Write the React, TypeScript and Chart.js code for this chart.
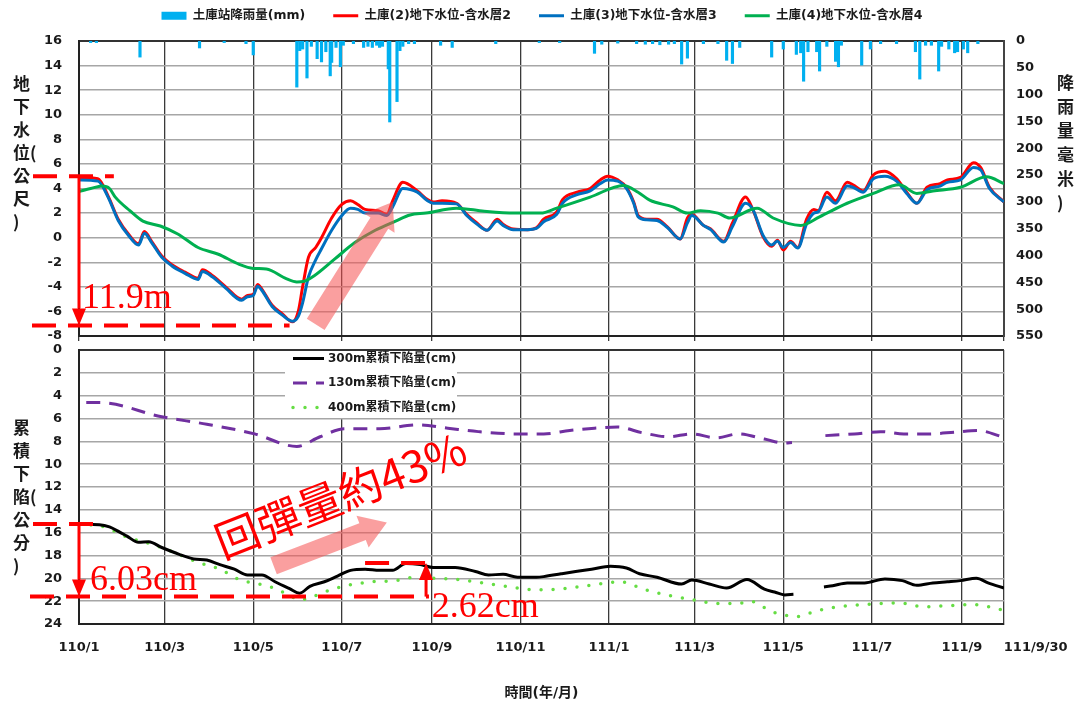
import React, { useEffect, useRef } from 'react';
import { Chart, registerables } from 'chart.js';

Chart.register(...registerables);

// ---------- time axis (days since 110/1/1) ----------
const xTickDays = [0, 59, 120, 181, 243, 304, 365, 424, 485, 546, 608, 637];
const xTickLabels = ['110/1', '110/3', '110/5', '110/7', '110/9', '110/11', '111/1', '111/3', '111/5', '111/7', '111/9', '111/9/30'];

// ---------- top chart: rainfall (day, mm) ----------
const rainfall: [number, number][] = [
  [8, 3], [12, 3], [42, 30], [83, 13], [100, 3], [115, 5], [120, 26], [150, 86], [152, 18], [154, 15],
  [157, 69], [160, 10], [164, 33], [167, 39], [170, 20], [173, 65], [174, 40], [177, 12], [180, 48], [182, 8],
  [189, 5], [196, 12], [199, 10], [202, 12], [205, 8], [207, 12], [209, 10], [213, 52], [214, 151], [219, 113],
  [221, 18], [223, 10], [227, 5], [231, 5], [249, 8], [257, 12], [287, 5], [317, 3], [331, 3], [355, 23],
  [360, 6], [371, 4], [384, 5], [390, 6], [395, 5], [400, 7], [406, 6], [410, 5], [415, 43], [419, 32],
  [430, 5], [440, 5], [446, 36], [450, 42], [455, 12], [477, 30], [485, 15], [494, 25], [497, 22], [499, 75],
  [502, 20], [508, 20], [510, 56], [515, 10], [521, 38], [523, 48], [525, 8], [539, 45], [545, 15], [552, 5],
  [563, 5], [576, 20], [579, 71], [583, 8], [587, 8], [592, 56], [594, 10], [599, 15], [603, 22], [605, 20],
  [609, 15], [612, 22], [619, 5],
];

// ---------- top chart: groundwater level (day, m) ----------
const aquifer2: [number, number][] = [
  [0, 4.9], [13, 4.8], [20, 3.4], [27, 1.5], [34, 0.3], [41, -0.5], [45, 0.5], [50, -0.3], [57, -1.5], [64, -2.2],
  [73, -2.8], [82, -3.3], [85, -2.6], [92, -3.1], [101, -4.0], [112, -5.0], [116, -4.7], [120, -4.6], [123, -3.8], [126, -4.2],
  [133, -5.5], [140, -6.2], [147, -6.85], [151, -6.0], [154, -4.0], [158, -1.6], [163, -0.8], [167, 0.0], [174, 1.6], [181, 2.7],
  [187, 3.0], [192, 2.7], [197, 2.3], [206, 2.2], [212, 1.9], [216, 3.0], [223, 4.5], [233, 3.8], [240, 3.1], [244, 2.9],
  [250, 3.0], [260, 2.8], [267, 1.9], [274, 1.2], [281, 0.6], [288, 1.5], [292, 1.1], [299, 0.7], [309, 0.65], [315, 0.8],
  [320, 1.5], [329, 2.1], [333, 3.1], [343, 3.7], [352, 4.0], [359, 4.7], [364, 5.0], [371, 4.7], [377, 4.1], [382, 2.9],
  [385, 1.8], [391, 1.5], [398, 1.5], [405, 0.9], [414, -0.1], [419, 1.6], [422, 1.9], [430, 1.0], [435, 0.7], [444, -0.3],
  [450, 1.2], [459, 3.3], [464, 2.3], [471, 0.1], [477, -0.7], [481, -0.2], [485, -1.0], [490, -0.3], [495, -0.8], [501, 1.5],
  [506, 2.3], [509, 2.2], [515, 3.7], [521, 3.0], [529, 4.5], [533, 4.3], [540, 3.8], [547, 5.1], [555, 5.4], [563, 4.8],
  [570, 3.7], [577, 2.8], [584, 4.1], [593, 4.4], [598, 4.7], [607, 4.9], [616, 6.1], [621, 5.7], [627, 4.1], [637, 2.9],
];
const aquifer3: [number, number][] = [
  [0, 4.7], [13, 4.6], [20, 3.3], [27, 1.4], [34, 0.2], [41, -0.6], [45, 0.35], [50, -0.4], [57, -1.6], [64, -2.3],
  [73, -2.9], [82, -3.4], [85, -2.75], [92, -3.2], [101, -4.1], [112, -5.1], [116, -4.8], [120, -4.7], [123, -3.95], [126, -4.3],
  [133, -5.6], [140, -6.3], [147, -6.8], [151, -6.4], [154, -5.3], [158, -3.2], [163, -1.8], [167, -0.9], [174, 0.6], [181, 1.8],
  [187, 2.4], [192, 2.3], [197, 2.0], [206, 2.0], [212, 1.8], [216, 2.5], [223, 4.0], [233, 3.7], [240, 3.0], [244, 2.8],
  [250, 2.8], [260, 2.75], [267, 1.8], [274, 1.1], [281, 0.6], [288, 1.35], [292, 1.0], [299, 0.65], [309, 0.65], [315, 0.75],
  [320, 1.3], [329, 1.9], [333, 2.8], [343, 3.5], [352, 3.8], [359, 4.4], [364, 4.7], [371, 4.6], [377, 4.0], [382, 2.8],
  [385, 1.7], [391, 1.45], [398, 1.4], [405, 0.85], [414, -0.1], [419, 1.2], [422, 1.8], [430, 1.0], [435, 0.65], [444, -0.35],
  [450, 0.9], [459, 2.8], [464, 2.3], [471, 0.2], [477, -0.6], [481, -0.3], [485, -0.8], [490, -0.4], [495, -0.85], [501, 1.1],
  [506, 2.0], [509, 2.1], [515, 3.3], [521, 2.8], [529, 4.2], [533, 4.1], [540, 3.7], [547, 4.8], [555, 5.0], [563, 4.6],
  [570, 3.6], [577, 2.8], [584, 3.9], [593, 4.2], [598, 4.5], [607, 4.7], [616, 5.7], [621, 5.5], [627, 4.0], [637, 2.9],
];
const aquifer4: [number, number][] = [
  [0, 3.75], [8, 4.0], [16, 4.2], [21, 4.0], [25, 3.3], [35, 2.2], [44, 1.35], [56, 0.95], [68, 0.3], [82, -0.8],
  [96, -1.35], [110, -2.15], [120, -2.5], [129, -2.55], [143, -3.35], [150, -3.6], [155, -3.55], [162, -3.1], [176, -1.75], [190, -0.4],
  [204, 0.6], [218, 1.35], [228, 1.85], [239, 2.0], [260, 2.4], [279, 2.15], [300, 2.0], [318, 2.0], [329, 2.4], [352, 3.3],
  [375, 4.25], [385, 3.7], [393, 3.05], [409, 2.5], [419, 2.0], [428, 2.2], [440, 2.0], [448, 1.6], [467, 2.4], [478, 1.6],
  [497, 1.0], [510, 1.7], [529, 2.8], [547, 3.6], [565, 4.3], [577, 3.6], [588, 3.8], [607, 4.1], [625, 4.95], [637, 4.4],
];

// ---------- bottom chart: cumulative subsidence (day, cm) ----------
const subsidence300: [number, number | null][] = [
  [0, 15.25], [14, 15.3], [21, 15.5], [28, 15.95], [33, 16.3], [41, 16.85], [48, 16.8], [57, 17.3], [69, 17.9], [79, 18.3],
  [88, 18.4], [97, 18.8], [107, 19.2], [116, 19.7], [126, 19.7], [135, 20.3], [145, 20.9], [152, 21.3], [159, 20.7], [169, 20.3],
  [178, 19.8], [187, 19.3], [197, 19.2], [207, 19.3], [216, 19.3], [225, 18.7], [235, 18.8], [244, 19.05], [259, 19.05], [273, 19.4],
  [282, 19.7], [292, 19.65], [302, 19.9], [315, 19.9], [320, 19.85], [332, 19.6], [342, 19.4], [353, 19.2], [366, 18.95], [377, 19.1],
  [386, 19.6], [398, 19.9], [415, 20.5], [422, 20.15], [434, 20.5], [446, 20.85], [460, 20.1], [472, 20.95], [479, 21.2], [486, 21.45],
  [492, 21.4], [500, null], [513, 20.75], [519, 20.65], [529, 20.4], [541, 20.4], [555, 20.05], [567, 20.2], [577, 20.6], [588, 20.4],
  [598, 20.3], [607, 20.2], [618, 20.0], [626, 20.4], [637, 20.85],
];
const subsidence130: [number, number | null][] = [
  [5, 4.6], [14, 4.6], [57, 5.85], [88, 6.5], [121, 7.35], [150, 8.45], [166, 7.6], [183, 6.9], [207, 6.9], [233, 6.55],
  [254, 6.85], [275, 7.15], [302, 7.35], [320, 7.35], [338, 7.05], [355, 6.85], [371, 6.75], [388, 7.25], [406, 7.6], [422, 7.35],
  [439, 7.7], [454, 7.35], [472, 7.8], [486, 8.15], [491, 8.1], [500, null], [514, 7.5], [534, 7.35], [552, 7.15], [568, 7.35],
  [585, 7.35], [603, 7.2], [619, 7.05], [637, 7.65],
];
const subsidence400: [number, number][] = [
  [0, 15.3], [14, 15.4], [25, 15.9], [33, 16.4], [50, 17.0], [67, 17.8], [82, 18.6], [97, 19.2], [112, 20.2], [121, 20.4],
  [135, 20.9], [145, 21.5], [152, 21.9], [159, 21.7], [169, 21.2], [182, 20.7], [202, 20.3], [218, 20.2], [228, 19.95], [244, 20.0],
  [261, 20.1], [278, 20.4], [294, 20.7], [313, 21.0], [330, 20.95], [347, 20.7], [364, 20.4], [373, 20.3], [389, 20.95], [406, 21.5],
  [422, 21.85], [439, 22.2], [454, 22.2], [462, 22.0], [477, 22.9], [485, 23.2], [495, 23.35], [502, 23.1], [513, 22.7], [530, 22.4],
  [547, 22.25], [564, 22.15], [582, 22.5], [598, 22.4], [616, 22.3], [637, 22.8],
];

// ---------- axis titles ----------
const waterTitle = ['地', '下', '水', '位(', '公', '尺', ')'];
const rainTitle = ['降', '雨', '量(', '毫', '米', ')'];
const subsTitle = ['累', '積', '下', '陷(', '公', '分', ')'];
const xTitle = '時間(年/月)';

const FAMILY = "'DejaVu Sans', 'Noto Sans CJK TC', sans-serif";
const CJK_BOLD = "bold 17px 'Noto Sans CJK TC', sans-serif";
const SERIF = "'Liberation Serif', 'Times New Roman', serif";
const RED = '#ff0000';
const PINK = 'rgba(245, 80, 80, 0.55)';
const GRID_H = '#a6a6a6';
const GRID_V = '#3a3a3a';
const TEXT = '#1a1a1a';

const toXY = (arr: [number, number | null][]) => arr.map(([x, y]) => ({ x, y }));

function drawStacked(ctx: CanvasRenderingContext2D, lines: string[], x: number, y: number, step: number) {
  ctx.save();
  ctx.font = CJK_BOLD;
  ctx.fillStyle = TEXT;
  ctx.textAlign = 'left';
  ctx.textBaseline = 'middle';
  lines.forEach((l, i) => ctx.fillText(l, x, y + i * step));
  ctx.restore();
}

function dashed(ctx: CanvasRenderingContext2D, x0: number, y0: number, x1: number, y1: number) {
  ctx.save();
  ctx.strokeStyle = RED;
  ctx.lineWidth = 4;
  ctx.setLineDash([24, 12]);
  ctx.beginPath();
  ctx.moveTo(x0, y0);
  ctx.lineTo(x1, y1);
  ctx.stroke();
  ctx.restore();
}

function vArrow(ctx: CanvasRenderingContext2D, x: number, yFrom: number, yTo: number) {
  const dir = yTo > yFrom ? 1 : -1;
  const headL = 17;
  const headW = 7;
  ctx.save();
  ctx.strokeStyle = RED;
  ctx.fillStyle = RED;
  ctx.lineWidth = 3;
  ctx.beginPath();
  ctx.moveTo(x, yFrom);
  ctx.lineTo(x, yTo - dir * headL);
  ctx.stroke();
  ctx.beginPath();
  ctx.moveTo(x - headW, yTo - dir * headL);
  ctx.lineTo(x + headW, yTo - dir * headL);
  ctx.lineTo(x, yTo);
  ctx.closePath();
  ctx.fill();
  ctx.restore();
}

function blockArrow(ctx: CanvasRenderingContext2D, x0: number, y0: number, x1: number, y1: number, shaftW: number, headW: number, headL: number) {
  const ang = Math.atan2(y1 - y0, x1 - x0);
  const len = Math.hypot(x1 - x0, y1 - y0);
  ctx.save();
  ctx.translate(x0, y0);
  ctx.rotate(ang);
  ctx.beginPath();
  ctx.moveTo(0, -shaftW / 2);
  ctx.lineTo(len - headL, -shaftW / 2);
  ctx.lineTo(len - headL, -headW / 2);
  ctx.lineTo(len, 0);
  ctx.lineTo(len - headL, headW / 2);
  ctx.lineTo(len - headL, shaftW / 2);
  ctx.lineTo(0, shaftW / 2);
  ctx.closePath();
  ctx.fillStyle = PINK;
  ctx.fill();
  ctx.restore();
}

function serifText(ctx: CanvasRenderingContext2D, text: string, x: number, y: number) {
  ctx.save();
  ctx.font = `36px ${SERIF}`;
  ctx.fillStyle = RED;
  ctx.textAlign = 'left';
  ctx.textBaseline = 'alphabetic';
  ctx.fillText(text, x, y);
  ctx.restore();
}

const topDecor = {
  id: 'topDecor',
  afterLayout(chart: any) {
    // place legend row near the top edge without changing the plot area
    const lg = chart.legend;
    if (lg) {
      lg.top = -18.5;
      lg.bottom = 40;
    }
  },
  afterDraw(chart: any) {
    const { ctx, chartArea } = chart;
    const xs = chart.scales.x;
    const ys = chart.scales.yWater;
    const L = chartArea.left;
    drawStacked(ctx, waterTitle, 13, 84, 23);
    drawStacked(ctx, rainTitle, 1057, 83, 24);
    const hi = ys.getPixelForValue(5.0);
    const lo = ys.getPixelForValue(-7.15);
    blockArrow(ctx, xs.getPixelForValue(163), ys.getPixelForValue(-7.05), xs.getPixelForValue(216), ys.getPixelForValue(2.9), 21, 36, 25);
    dashed(ctx, L - 46, hi, xs.getPixelForValue(24), hi);
    dashed(ctx, L - 47, lo, xs.getPixelForValue(145), lo);
    vArrow(ctx, L, hi, lo);
    serifText(ctx, '11.9m', L + 3, lo - 18);
  },
};

const bottomDecor = {
  id: 'bottomDecor',
  beforeDraw(chart: any) {
    const { ctx, width, height } = chart;
    ctx.save();
    ctx.fillStyle = '#ffffff';
    ctx.fillRect(0, 0, width, height);
    ctx.restore();
  },
  afterDatasetsDraw(chart: any) {
    const { ctx, chartArea } = chart;
    const L = chartArea.left;
    const bx = L + 206;
    const bw = 172;
    ctx.save();
    ctx.fillStyle = '#ffffff';
    ctx.fillRect(bx, chartArea.top + 1, bw, 67);
    chart.data.datasets.forEach((ds: any, i: number) => {
      const y = chartArea.top + 8.5 + i * 24.5;
      ctx.save();
      ctx.strokeStyle = ds.borderColor;
      ctx.lineWidth = ds.borderWidth;
      ctx.lineCap = ds.borderCapStyle || 'butt';
      ctx.setLineDash(ds.borderDash || []);
      ctx.beginPath();
      ctx.moveTo(bx + 8, y);
      ctx.lineTo(bx + 39, y);
      ctx.stroke();
      ctx.restore();
      ctx.font = `bold 12px ${FAMILY}`;
      ctx.fillStyle = TEXT;
      ctx.textAlign = 'left';
      ctx.textBaseline = 'middle';
      ctx.fillText(ds.label, bx + 43, y);
    });
    ctx.restore();
  },
  afterDraw(chart: any) {
    const { ctx, chartArea } = chart;
    const xs = chart.scales.x;
    const ys = chart.scales.y;
    const L = chartArea.left;
    drawStacked(ctx, subsTitle, 13, ys.getPixelForValue(6.8), 23);
    const top = ys.getPixelForValue(15.25);
    const low = ys.getPixelForValue(21.6);
    const reb = ys.getPixelForValue(18.65);
    blockArrow(ctx, xs.getPixelForValue(134), ys.getPixelForValue(18.9), xs.getPixelForValue(212), ys.getPixelForValue(15.1), 18, 34, 26);
    dashed(ctx, L - 46, top, xs.getPixelForValue(15), top);
    dashed(ctx, L - 49, low, xs.getPixelForValue(241), low);
    dashed(ctx, xs.getPixelForValue(197), reb, xs.getPixelForValue(241), reb);
    vArrow(ctx, L, top, low);
    vArrow(ctx, xs.getPixelForValue(239), low, reb);
    serifText(ctx, '6.03cm', L + 11, low - 7);
    serifText(ctx, '2.62cm', xs.getPixelForValue(243), low + 20);
    ctx.save();
    ctx.translate(xs.getPixelForValue(180), ys.getPixelForValue(12.7));
    ctx.rotate((-21.5 * Math.PI) / 180);
    ctx.font = "44px 'Noto Sans CJK TC', sans-serif";
    ctx.fillStyle = RED;
    ctx.textAlign = 'center';
    ctx.textBaseline = 'middle';
    ctx.fillText('回彈量約43%', 0, 0);
    ctx.restore();
  },
};

const tickFont = { family: FAMILY, size: 13, weight: 'bold' as const };

function xTicksBuilder(scale: any) {
  scale.ticks = xTickDays.map((v) => ({ value: v }));
}

export default function App() {
  const topRef = useRef<HTMLCanvasElement>(null);
  const botRef = useRef<HTMLCanvasElement>(null);

  useEffect(() => {
    const lineCommon = {
      borderWidth: 3,
      pointRadius: 0,
      pointStyle: 'line',
      cubicInterpolationMode: 'monotone' as const,
      fill: false,
    };
    const top = new Chart(topRef.current as HTMLCanvasElement, {
      type: 'line',
      data: {
        datasets: [
          {
            type: 'bar',
            label: '土庫站降雨量(mm)',
            data: toXY(rainfall) as any,
            backgroundColor: '#00b0f0',
            borderWidth: 0,
            barThickness: 2.5,
            grouped: false,
            yAxisID: 'yRain',
            pointStyle: 'rect',
            order: 4,
          } as any,
          { ...lineCommon, label: '土庫(2)地下水位-含水層2', data: toXY(aquifer2) as any, borderColor: '#ff0000', yAxisID: 'yWater', order: 3 },
          { ...lineCommon, label: '土庫(3)地下水位-含水層3', data: toXY(aquifer3) as any, borderColor: '#0070c0', yAxisID: 'yWater', order: 2 },
          { ...lineCommon, label: '土庫(4)地下水位-含水層4', data: toXY(aquifer4) as any, borderColor: '#00b050', yAxisID: 'yWater', order: 1 },
        ],
      },
      options: {
        responsive: false,
        animation: false,
        events: [],
        layout: { padding: { top: 0, left: 10, right: 0, bottom: 0 } },
        plugins: {
          tooltip: { enabled: false },
          legend: {
            display: true,
            position: 'top',
            maxHeight: 33,
            labels: {
              usePointStyle: true,
              pointStyleWidth: 25,
              boxHeight: 8,
              padding: 28,
              color: TEXT,
              font: { family: FAMILY, size: 12.5, weight: 'bold' },
              sort: (a: any, b: any) => a.datasetIndex - b.datasetIndex,
            },
          },
        },
        scales: {
          x: {
            type: 'linear',
            min: 0,
            max: 637,
            offset: false,
            afterBuildTicks: xTicksBuilder,
            afterFit: (s: any) => { s.height = 8; s.paddingLeft = 0; s.paddingRight = 0; },
            ticks: { display: false },
            grid: { color: GRID_V, lineWidth: 1.3, drawTicks: true, tickLength: 6, offset: false },
            border: { color: '#222', width: 2 },
          },
          yWater: {
            type: 'linear',
            position: 'left',
            min: -8,
            max: 16,
            afterFit: (s: any) => { s.width = 69; s.paddingTop = 41; s.paddingBottom = 0; },
            ticks: { stepSize: 2, font: tickFont, color: TEXT, padding: 17 },
            grid: {
              drawTicks: false,
              color: (c: any) => (c.tick && c.tick.value === 16 ? '#333' : GRID_H),
              lineWidth: (c: any) => (c.tick && c.tick.value === 16 ? 2 : 1.5),
            },
            border: { color: '#222', width: 2 },
          },
          yRain: {
            type: 'linear',
            position: 'right',
            reverse: true,
            min: 0,
            max: 550,
            afterFit: (s: any) => { s.width = 70; s.paddingTop = 0; s.paddingBottom = 0; },
            ticks: { stepSize: 50, font: tickFont, color: TEXT, padding: 12 },
            grid: { display: false, drawTicks: false },
            border: { color: '#444', width: 2 },
          },
        },
      } as any,
      plugins: [topDecor],
    });

    const bot = new Chart(botRef.current as HTMLCanvasElement, {
      type: 'line',
      data: {
        datasets: [
          { label: '300m累積下陷量(cm)', data: toXY(subsidence300) as any, borderColor: '#000000', borderWidth: 3, pointRadius: 0, spanGaps: false, cubicInterpolationMode: 'monotone' },
          { label: '130m累積下陷量(cm)', data: toXY(subsidence130) as any, borderColor: '#7030a0', borderWidth: 3, borderDash: [14, 9], pointRadius: 0, spanGaps: false, cubicInterpolationMode: 'monotone' },
          { label: '400m累積下陷量(cm)', data: toXY(subsidence400) as any, borderColor: '#66dd44', borderWidth: 3.5, borderDash: [0, 12], borderCapStyle: 'round', pointRadius: 0, cubicInterpolationMode: 'monotone' },
        ] as any,
      },
      options: {
        responsive: false,
        animation: false,
        events: [],
        layout: { padding: { top: 0, left: 0, right: 70, bottom: 0 } },
        plugins: { tooltip: { enabled: false }, legend: { display: false } },
        scales: {
          x: {
            type: 'linear',
            min: 0,
            max: 637,
            offset: false,
            afterBuildTicks: xTicksBuilder,
            afterFit: (s: any) => { s.height = 92; s.paddingLeft = 0; s.paddingRight = 0; },
            ticks: {
              font: tickFont,
              color: TEXT,
              padding: 16,
              maxRotation: 0,
              autoSkip: false,
              callback: (v: any) => {
                const i = xTickDays.indexOf(Number(v));
                if (i < 0) return '';
                return i === xTickDays.length - 1 ? '              ' + xTickLabels[i] : xTickLabels[i];
              },
            },
            grid: { color: GRID_V, lineWidth: 1.3, drawTicks: false, offset: false },
            border: { color: '#222', width: 2 },
            title: {
              display: true,
              text: xTitle,
              color: TEXT,
              font: { family: FAMILY, size: 14, weight: 'bold' },
              padding: { top: 0, bottom: 14.6 },
            },
          },
          y: {
            type: 'linear',
            position: 'left',
            reverse: true,
            min: 0,
            max: 24,
            afterFit: (s: any) => { s.width = 79; s.paddingTop = 9; s.paddingBottom = 0; },
            ticks: { stepSize: 2, font: tickFont, color: TEXT, padding: 17 },
            grid: {
              drawTicks: false,
              color: (c: any) => (c.tick && c.tick.value === 0 ? '#333' : GRID_H),
              lineWidth: (c: any) => (c.tick && c.tick.value === 0 ? 2 : 1.5),
            },
            border: { color: '#222', width: 2 },
          },
        },
      } as any,
      plugins: [bottomDecor],
    });

    return () => {
      top.destroy();
      bot.destroy();
    };
  }, []);

  return (
    <div style={{ position: 'absolute', left: 0, top: 0, width: 1074, height: 716, background: '#ffffff', overflow: 'hidden' }}>
      <canvas ref={topRef} width={1074} height={344} style={{ position: 'absolute', left: 0, top: 0 }} />
      <canvas ref={botRef} width={1074} height={375} style={{ position: 'absolute', left: 0, top: 341 }} />
    </div>
  );
}
